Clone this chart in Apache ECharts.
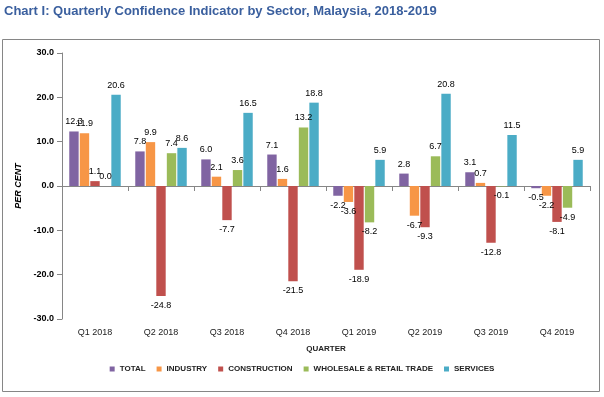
<!DOCTYPE html>
<html>
<head>
<meta charset="utf-8">
<script src="https://cdn.jsdelivr.net/npm/echarts@6/dist/echarts.min.js"></script>
<style>
  html, body { margin: 0; padding: 0; background: #fff; }
  #chart { width: 604px; height: 397px; }
</style>
</head>
<body>
<div id="chart"></div>
<script>
var quarters = ["Q1 2018", "Q2 2018", "Q3 2018", "Q4 2018", "Q1 2019", "Q2 2019", "Q3 2019", "Q4 2019"];
var seriesNames = ["TOTAL", "INDUSTRY", "CONSTRUCTION", "WHOLESALE & RETAIL TRADE", "SERVICES"];
var total = [12.3, 7.8, 6.0, 7.1, -2.2, 2.8, 3.1, -0.5];
var industry = [11.9, 9.9, 2.1, 1.6, -3.6, -6.7, 0.7, -2.2];
var construction = [1.1, -24.8, -7.7, -21.5, -18.9, -9.3, -12.8, -8.1];
var wholesale = [0.0, 7.4, 3.6, 13.2, -8.2, 6.7, -0.1, -4.9];
var services = [20.6, 8.6, 16.5, 18.8, 5.9, 20.8, 11.5, 5.9];
var colors = ["#8064A2", "#F79646", "#C0504D", "#9BBB59", "#4BACC6"];

var font = "'Liberation Sans', Arial, sans-serif";

function makeSeries(name, vals, color) {
    return {
        name: name,
        type: "bar",
        barGap: "12%",
        barCategoryGap: "22%",
        itemStyle: {color: color},
        data: vals.map(function (v) {
            return {value: v, label: {position: v < 0 ? "bottom" : "top"}};
        }),
        label: {
            show: true,
            distance: 5,
            fontFamily: font,
            fontSize: 9,
            color: "#000",
            formatter: function (p) { return p.value.toFixed(1); }
        }
    };
}

var chart = echarts.init(document.getElementById("chart"));
chart.setOption({
    animation: false,
    textStyle: {fontFamily: font},
    graphic: [{
        type: "rect",
        shape: {x: 2.5, y: 39.5, width: 597, height: 352},
        style: {fill: null, stroke: "#868686", lineWidth: 1}
    }, {
        type: "text",
        left: 4, top: 5,
        style: {
            text: "Chart I: Quarterly Confidence Indicator by Sector, Malaysia, 2018-2019",
            fill: "#3A5F9E",
            font: "bold 13px " + font
        }
    }],
    legend: {
        bottom: 19,
        left: "center",
        itemWidth: 5,
        itemHeight: 5,
        itemGap: 11,
        itemTextGap: 3,
        icon: "rect",
        textStyle: {fontSize: 8, fontWeight: "bold", color: "#222"},
        data: seriesNames
    },
    grid: {left: 62, right: 14, top: 53, bottom: 78},
    xAxis: [{
        type: "category",
        data: quarters,
        position: "bottom",
        axisLine: {show: false, onZero: false},
        axisTick: {show: false},
        axisLabel: {fontSize: 9, color: "#222", margin: 9},
        name: "QUARTER",
        nameLocation: "middle",
        nameGap: 26,
        nameTextStyle: {fontSize: 8, fontWeight: "bold", color: "#222"}
    }, {
        type: "category",
        data: quarters,
        position: "bottom",
        axisLine: {show: true, onZero: true, lineStyle: {color: "#868686"}},
        axisTick: {show: true, length: 5, lineStyle: {color: "#868686"}},
        axisLabel: {show: false}
    }],
    yAxis: {
        type: "value",
        min: -30, max: 30, interval: 10,
        splitLine: {show: false},
        axisLine: {show: true, onZero: false, lineStyle: {color: "#868686"}},
        axisTick: {show: true, inside: false, length: 5, lineStyle: {color: "#868686"}},
        axisLabel: {
            fontSize: 9, fontWeight: "bold", color: "#000", margin: 8,
            formatter: function (v) { return v.toFixed(1); }
        },
        name: "PER CENT",
        nameLocation: "middle",
        nameGap: 33,
        nameTextStyle: {fontSize: 9, fontWeight: "bold", fontStyle: "italic", color: "#000"}
    },
    series: [
        makeSeries(seriesNames[0], total, colors[0]),
        makeSeries(seriesNames[1], industry, colors[1]),
        makeSeries(seriesNames[2], construction, colors[2]),
        makeSeries(seriesNames[3], wholesale, colors[3]),
        makeSeries(seriesNames[4], services, colors[4])
    ]
});
</script>
</body>
</html>
